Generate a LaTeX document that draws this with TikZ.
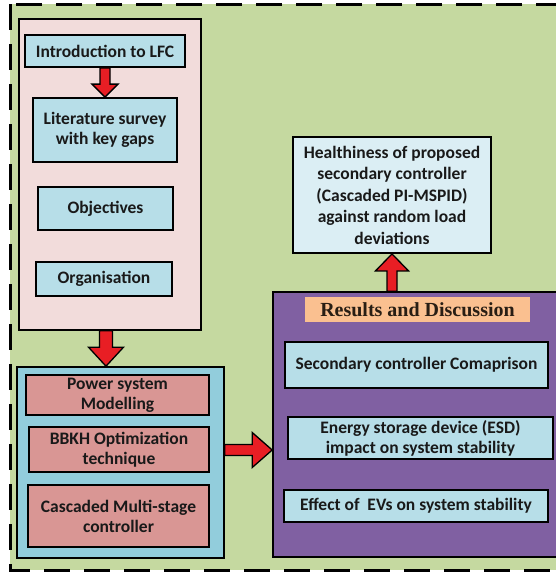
\documentclass[tikz,border=0pt]{standalone}
\usepackage{fontspec}
\setmainfont{Carlito}
\newfontfamily\serifhead{Liberation Serif}
\usetikzlibrary{calc}
\definecolor{bggreen}{RGB}{197,217,160}
\definecolor{pinkbg}{RGB}{242,220,219}
\definecolor{lblue}{RGB}{183,222,232}
\definecolor{mblue}{RGB}{146,205,220}
\definecolor{rosy}{RGB}{217,150,148}
\definecolor{purp}{RGB}{128,96,162}
\definecolor{orng}{RGB}{250,192,144}
\definecolor{pale}{RGB}{219,238,244}
\definecolor{arrred}{RGB}{232,30,36}
\definecolor{txt}{RGB}{25,25,25}
\definecolor{headtxt}{RGB}{40,30,20}
\tikzset{
  x=1pt, y=-1pt,
  frame/.style={draw=black, line width=1.6pt, inner sep=0pt},
  box/.style={draw=black, line width=1.8pt, fill=lblue, align=center, inner sep=0pt,
    text=txt, font=\fontsize{17.5}{20}\selectfont\bfseries},
  fat/.style n args={3}{to path={
    let \p1=(\tikztostart), \p2=(\tikztotarget),
        \n1={atan2(\y2-\y1,\x2-\x1)},
        \n2={veclen(\x2-\x1,\y2-\y1)-#3} in
    ($(\p1)+({\n1+90}:#1)$) --
    ($(\p1)+({\n1}:{\n2*1pt})+({\n1+90}:#1)$) --
    ($(\p1)+({\n1}:{\n2*1pt})+({\n1+90}:#2)$) --
    (\p2) --
    ($(\p1)+({\n1}:{\n2*1pt})+({\n1-90}:#2)$) --
    ($(\p1)+({\n1}:{\n2*1pt})+({\n1-90}:#1)$) --
    ($(\p1)+({\n1-90}:#1)$) -- cycle}},
  bigarrow/.style={draw=black, line width=1.3pt, fill=arrred, line join=miter}
}
\begin{document}
\begin{tikzpicture}
\useasboundingbox (0,0) rectangle (556,573);
\clip (0,0) rectangle (556,573);
% background and dashed frame
\fill[bggreen] (10,4) rectangle (600,570);
\draw[line width=3pt, dash pattern=on 26pt off 14pt] (10,4) rectangle (600,570);

% containers
\node[frame, fill=pinkbg, minimum width=182pt, minimum height=311pt] (pink) at (110,174.5) {};
\node[frame, fill=mblue, minimum width=207pt, minimum height=191pt] (blue) at (120.5,462.5) {};
\node[frame, fill=purp, minimum width=297pt, minimum height=265pt] (purple) at (421.5,424.5) {};

% pink contents
\node[box, minimum width=160pt, minimum height=32pt] (intro) at (105,51) {Introduction to LFC};
\node[box, minimum width=144pt, minimum height=64pt] (lit) at (105,130) {Literature survey\\with key gaps};
\node[box, minimum width=135pt, minimum height=43pt] (obj) at (105.5,208.5) {Objectives};
\node[box, minimum width=136pt, minimum height=34pt] (org) at (104,279) {Organisation};

% blue contents
\node[box, fill=rosy, minimum width=183pt, minimum height=40pt] (power) at (117.5,395) {Power system\\Modelling};
\node[box, fill=rosy, minimum width=180pt, minimum height=45pt] (bbkh) at (119,449.5) {BBKH Optimization\\technique};
\node[box, fill=rosy, minimum width=181pt, minimum height=62pt] (casc) at (118.5,516) {Cascaded Multi-stage\\controller};

% purple contents
\node[fill=orng, minimum width=225pt, minimum height=25pt, inner sep=0pt, text=headtxt,
  font=\serifhead\bfseries\fontsize{20}{22}\selectfont] (head) at (417.5,309.5) {Results and Discussion};
\node[box, minimum width=263pt, minimum height=46pt] (sec) at (416.5,365) {Secondary controller Comaprison};
\node[box, minimum width=265pt, minimum height=42pt] (esd) at (420.5,438) {Energy storage device (ESD)\\impact on system stability};
\node[box, minimum width=264pt, minimum height=32pt] (evs) at (416,506) {Effect of~ EVs on system stability};

% healthiness
\node[box, fill=pale, minimum width=198pt, minimum height=116pt, font=\fontsize{17.5}{21.5}\selectfont\bfseries] (health) at (392,195)
  {Healthiness of proposed\\secondary controller\\(Cascaded PI-MSPID)\\against random load\\deviations};

% arrows
\draw[bigarrow] (intro.south) to[fat={5pt}{13pt}{13pt}] (lit.north);
\coordinate (a2s) at ([xshift=-4pt]pink.south);
\draw[bigarrow] (a2s) to[fat={6.5pt}{17.5pt}{19pt}] (a2s |- blue.north);
\coordinate (a3s) at ([yshift=12.5pt]blue.east);
\draw[bigarrow] (a3s) to[fat={5.5pt}{17.5pt}{20pt}] (a3s -| purple.west);
\coordinate (a4s) at (health.south |- purple.north);
\draw[bigarrow] (a4s) to[fat={5pt}{16.5pt}{17pt}] (health.south);
\end{tikzpicture}
\end{document}
